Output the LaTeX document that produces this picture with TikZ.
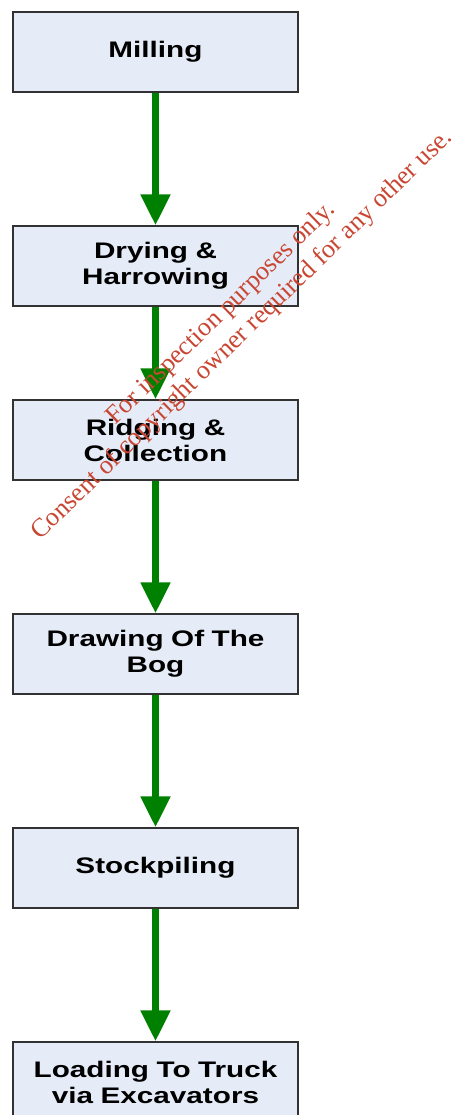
\documentclass[tikz,border=0pt]{standalone}
\usepackage{fontspec}
\setmainfont{Liberation Sans}
\newfontfamily\stagefont[FakeStretch=1.32]{Liberation Sans}
\newfontfamily\markfont{Liberation Serif}
\usetikzlibrary{arrows.meta,positioning}

\definecolor{stagefill}{RGB}{230,236,247}
\definecolor{stageline}{RGB}{50,50,50}
\definecolor{flowgreen}{RGB}{0,128,0}
\definecolor{markred}{RGB}{200,70,50}

\begin{document}
\begin{tikzpicture}[
    stage/.style={rectangle, draw=stageline, line width=0.6pt, fill=stagefill, text width=5.5cm, align=center, minimum width=5.7cm, minimum height=1.6cm, inner sep=0pt, font=\stagefont\fontsize{12.8}{14.8}\selectfont\bfseries},
    flow/.style={-{Triangle[width=0.56cm,length=0.62cm]}, line width=0.15cm, draw=flowgreen, shorten <=0.3pt, shorten >=0pt},
    watermark/.style={text=markred, align=center, rotate=44.2, font=\markfont\fontsize{14.9}{17}\selectfont}
]
\useasboundingbox (0,0) rectangle (9.14,-22.3);

% Stages
\node[stage] (milling) at (3.11,-1.04) {Milling};
\node[stage] (drying) at (3.11,-5.32) {Drying \&\\Harrowing};
\node[stage] (ridging) at (3.11,-8.8) {Ridging \&\\Collection};
\node[stage] (drawing) at (3.11,-13.08) {Drawing Of The\\Bog};
\node[stage] (stock) at (3.11,-17.36) {Stockpiling};
\node[stage] (loading) at (3.11,-21.64) {Loading To Truck\\via Excavators};

% Arrows
\draw[flow] (milling) -- (drying);
\draw[flow] (drying) -- (ridging);
\draw[flow] (ridging) -- (drawing);
\draw[flow] (drawing) -- (stock);
\draw[flow] (stock) -- (loading);

% Watermark
\node[watermark] (mark) at (4.64,-6.49) {For inspection purposes only.\\Consent of copyright owner required for any other use.};

\end{tikzpicture}
\end{document}
